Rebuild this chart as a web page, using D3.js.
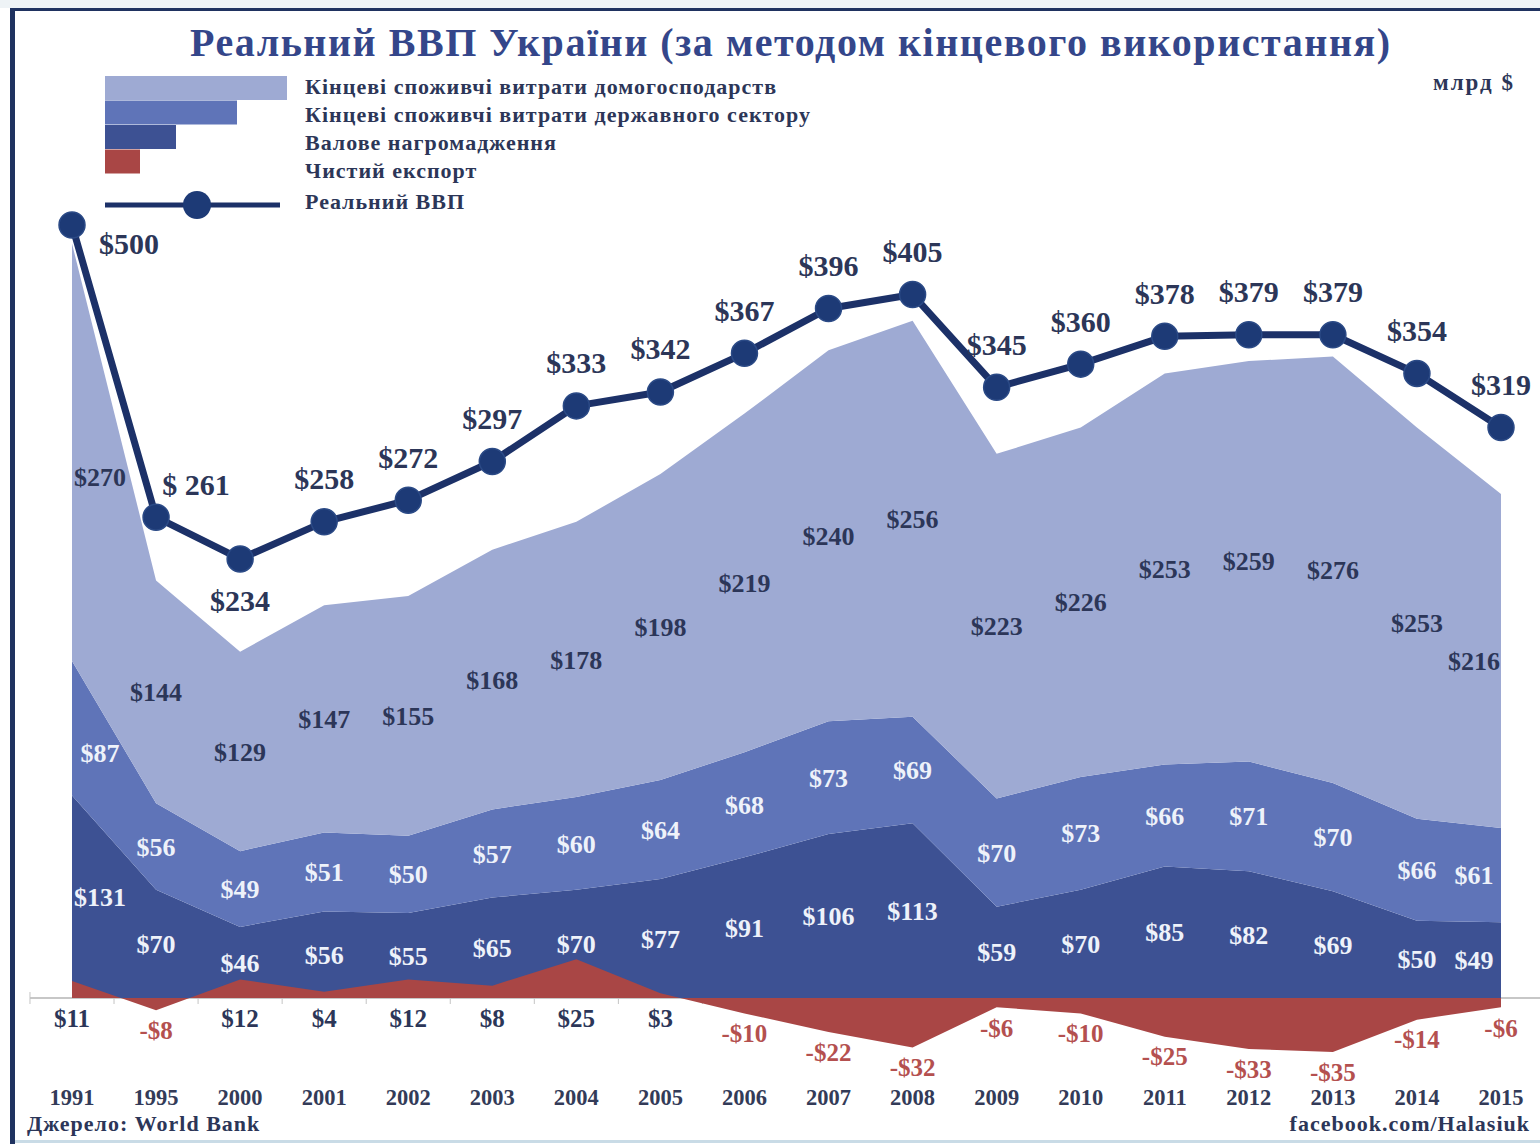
<!DOCTYPE html>
<html>
<head>
<meta charset="utf-8">
<script src="https://cdn.jsdelivr.net/npm/d3@7"></script>
<style>
  body { margin: 0; background: #fff; }
  text { font-family: "Liberation Serif", "DejaVu Serif", serif; }
</style>
</head>
<body>
<svg id="chart" width="1540" height="1144"></svg>
<script>
// data, bn $
const years = [1991, 1995, 2000, 2001, 2002, 2003, 2004, 2005, 2006, 2007, 2008, 2009, 2010, 2011, 2012, 2013, 2014, 2015];
const household = [270, 144, 129, 147, 155, 168, 178, 198, 219, 240, 256, 223, 226, 253, 259, 276, 253, 216];
const government = [87, 56, 49, 51, 50, 57, 60, 64, 68, 73, 69, 70, 73, 66, 71, 70, 66, 61];
const gross = [131, 70, 46, 56, 55, 65, 70, 77, 91, 106, 113, 59, 70, 85, 82, 69, 50, 49];
const netExport = [11, -8, 12, 4, 12, 8, 25, 3, -10, -22, -32, -6, -10, -25, -33, -35, -14, -6];
const gdp = [500, 261, 234, 258, 272, 297, 333, 342, 367, 396, 405, 345, 360, 378, 379, 379, 354, 319];

const seriesNames = {
    household: 'Кінцеві споживчі витрати домогосподарств',
    government: 'Кінцеві споживчі витрати державного сектору',
    gross: 'Валове нагромадження',
    netExport: 'Чистий експорт',
    gdp: 'Реальний ВВП'
};

const colors = {
    household: '#9eaad3',
    government: '#5f74b8',
    gross: '#3d5193',
    netExport: '#a94645',
    line: '#1c3168',
    text: '#2c3658'
};

const svg = d3.select('#chart');

let rows = years.map((yr, i) => ({
    year: yr, household: household[i], government: government[i],
    gross: gross[i], netExport: netExport[i], gdp: gdp[i]
}));

let x = d3.scalePoint().domain(years).range([72, 1501]);
let y = d3.scaleLinear().domain([-50, 500]).range([1075.3, 225]);
// the GDP line sits on its own axis, lifted above the stack (clamped at the top)
let yLine = d3.scaleLinear().domain([-50, 450]).range([y(0), y(500)]).clamp(true);
let step = x.step();

// frame
svg.append('rect').attr('x', 0).attr('y', 0).attr('width', 1540).attr('height', 8).attr('fill', '#eef3f6');
svg.append('line').attr('x1', 10).attr('x2', 1540).attr('y1', 9.5).attr('y2', 9.5)
    .attr('stroke', '#1f3260').attr('stroke-width', 3);
svg.append('line').attr('x1', 12.5).attr('x2', 12.5).attr('y1', 8).attr('y2', 1144)
    .attr('stroke', '#1f3260').attr('stroke-width', 5);
svg.append('line').attr('x1', 15).attr('x2', 1540).attr('y1', 1141.5).attr('y2', 1141.5)
    .attr('stroke', '#c9dbe6').attr('stroke-width', 3);

// baseline with ticks between categories
let gAxis = svg.append('g');
gAxis.append('line').attr('x1', 30).attr('x2', 1540).attr('y1', y(0)).attr('y2', y(0))
    .attr('stroke', '#b5b5b5').attr('stroke-width', 1.5);
gAxis.selectAll('.tick-mark')
    .data(years)
    .enter()
    .append('line')
    .attr('class', 'tick-mark')
    .attr('x1', (d) => x(d) - step / 2)
    .attr('x2', (d) => x(d) - step / 2)
    .attr('y1', y(0) - 6)
    .attr('y2', y(0) + 6)
    .attr('stroke', '#c4c4c4');

// stacked areas
let stack = d3.stack().keys(['gross', 'government', 'household']);
let layers = stack(rows);

let area = d3.area()
    .x((d) => x(d.data.year))
    .y0((d) => y(d[0]))
    .y1((d) => y(d[1]));

svg.append('g').selectAll('path')
    .data(layers)
    .enter()
    .append('path')
    .attr('d', area)
    .attr('fill', (d) => colors[d.key]);

let exportArea = d3.area()
    .x((d) => x(d.year))
    .y0(y(0))
    .y1((d) => y(d.netExport));

svg.append('path')
    .datum(rows)
    .attr('d', exportArea)
    .attr('fill', colors.netExport);

// labels inside bands
function labelX(i) {
    if (i == 0) return x(years[i]) + 28;
    if (i == years.length - 1) return x(years[i]) - 27;
    return x(years[i]);
}

layers.forEach((layer) => {
    svg.append('g').selectAll('text')
        .data(layer)
        .enter()
        .append('text')
        .attr('x', (d, i) => labelX(i))
        .attr('y', (d, i) => {
            let mid = (y(d[0]) + y(d[1])) / 2;
            // first column labels sit a little lower in the reference
            if (i == 0 && layer.key == 'government') mid += 25;
            if (i == 0 && layer.key == 'household') mid += 25;
            return mid;
        })
        .attr('dy', '0.35em')
        .attr('text-anchor', 'middle')
        .attr('font-size', 26)
        .attr('font-weight', 'bold')
        .attr('fill', layer.key == 'household' ? colors.text : '#eef2fa')
        .text((d) => '$' + d.data[layer.key]);
});

svg.append('g').selectAll('text')
    .data(rows)
    .enter()
    .append('text')
    .attr('x', (d) => x(d.year))
    .attr('y', (d) => d.netExport >= 0 ? y(0) + 20 : Math.max(y(d.netExport) + 20, y(0) + 30))
    .attr('dy', '0.35em')
    .attr('text-anchor', 'middle')
    .attr('font-size', 25)
    .attr('font-weight', 'bold')
    .attr('fill', (d) => d.netExport >= 0 ? colors.text : '#b4504f')
    .text((d) => (d.netExport < 0 ? '-$' : '$') + Math.abs(d.netExport));

// GDP line
let line = d3.line()
    .x((d) => x(d.year))
    .y((d) => yLine(d.gdp));

svg.append('path')
    .datum(rows)
    .attr('d', line)
    .attr('fill', 'none')
    .attr('stroke', colors.line)
    .attr('stroke-width', 7)
    .attr('stroke-linejoin', 'round');

svg.append('g').selectAll('circle')
    .data(rows)
    .enter()
    .append('circle')
    .attr('cx', (d) => x(d.year))
    .attr('cy', (d) => yLine(d.gdp))
    .attr('r', 13)
    .attr('fill', '#1d3a76')
    .attr('stroke', '#2b4a86')
    .attr('stroke-width', 1.5);

svg.append('g').selectAll('text')
    .data(rows)
    .enter()
    .append('text')
    .attr('x', (d, i) => i == 0 ? x(d.year) + 57 : i == 1 ? x(d.year) + 40 : x(d.year))
    .attr('y', (d, i) => i == 0 ? yLine(d.gdp) + 18 : i == 1 ? yLine(d.gdp) - 33 : i == 2 ? yLine(d.gdp) + 42 : yLine(d.gdp) - 43)
    .attr('dy', '0.35em')
    .attr('text-anchor', 'middle')
    .attr('font-size', 30)
    .attr('font-weight', 'bold')
    .attr('fill', colors.text)
    .text((d, i) => i == 1 ? '$ ' + d.gdp : '$' + d.gdp);

// year labels
svg.append('g').selectAll('text')
    .data(years)
    .enter()
    .append('text')
    .attr('x', (d) => x(d))
    .attr('y', 1097)
    .attr('dy', '0.35em')
    .attr('text-anchor', 'middle')
    .attr('font-size', 22.5)
    .attr('font-weight', 'bold')
    .attr('fill', '#333b58')
    .text((d) => d);

// title and notes
svg.append('text')
    .attr('x', 790)
    .attr('y', 42)
    .attr('dy', '0.35em')
    .attr('text-anchor', 'middle')
    .attr('font-size', 40)
    .attr('font-weight', 'bold')
    .attr('textLength', 1200)
    .attr('lengthAdjust', 'spacing')
    .attr('fill', '#34468a')
    .text('Реальний ВВП України (за методом кінцевого використання)');

svg.append('text')
    .attr('x', 1515).attr('y', 82).attr('dy', '0.35em')
    .attr('text-anchor', 'end')
    .attr('font-size', 23).attr('font-weight', 'bold')
    .attr('letter-spacing', 2)
    .attr('fill', colors.text)
    .text('млрд $');

svg.append('text')
    .attr('x', 27).attr('y', 1123).attr('dy', '0.35em')
    .attr('font-size', 22).attr('font-weight', 'bold')
    .attr('letter-spacing', 1)
    .attr('fill', colors.text)
    .text('Джерело: World Bank');

svg.append('text')
    .attr('x', 1530).attr('y', 1123).attr('dy', '0.35em')
    .attr('text-anchor', 'end')
    .attr('font-size', 22).attr('font-weight', 'bold')
    .attr('letter-spacing', 1)
    .attr('fill', colors.text)
    .text('facebook.com/Halasiuk');

// legend
const legendKeys = ['household', 'government', 'gross', 'netExport'];
const legendWidths = [182, 132, 71, 35];
let gLegend = svg.append('g');

legendKeys.forEach((k, i) => {
    gLegend.append('rect')
        .attr('x', 105).attr('y', 76 + i * 24.5)
        .attr('width', legendWidths[i]).attr('height', 24)
        .attr('fill', colors[k]);
    gLegend.append('text')
        .attr('x', 305).attr('y', 86 + i * 28).attr('dy', '0.35em')
        .attr('font-size', 22).attr('font-weight', 'bold')
        .attr('letter-spacing', 1)
        .attr('fill', colors.text)
        .text(seriesNames[k]);
});

gLegend.append('line')
    .attr('x1', 105).attr('x2', 280).attr('y1', 205).attr('y2', 205)
    .attr('stroke', colors.line).attr('stroke-width', 5);
gLegend.append('circle')
    .attr('cx', 197).attr('cy', 205).attr('r', 14)
    .attr('fill', '#1d3a76');
gLegend.append('text')
    .attr('x', 305).attr('y', 201).attr('dy', '0.35em')
    .attr('font-size', 22).attr('font-weight', 'bold')
    .attr('letter-spacing', 1)
    .attr('fill', colors.text)
    .text(seriesNames.gdp);
</script>
</body>
</html>
